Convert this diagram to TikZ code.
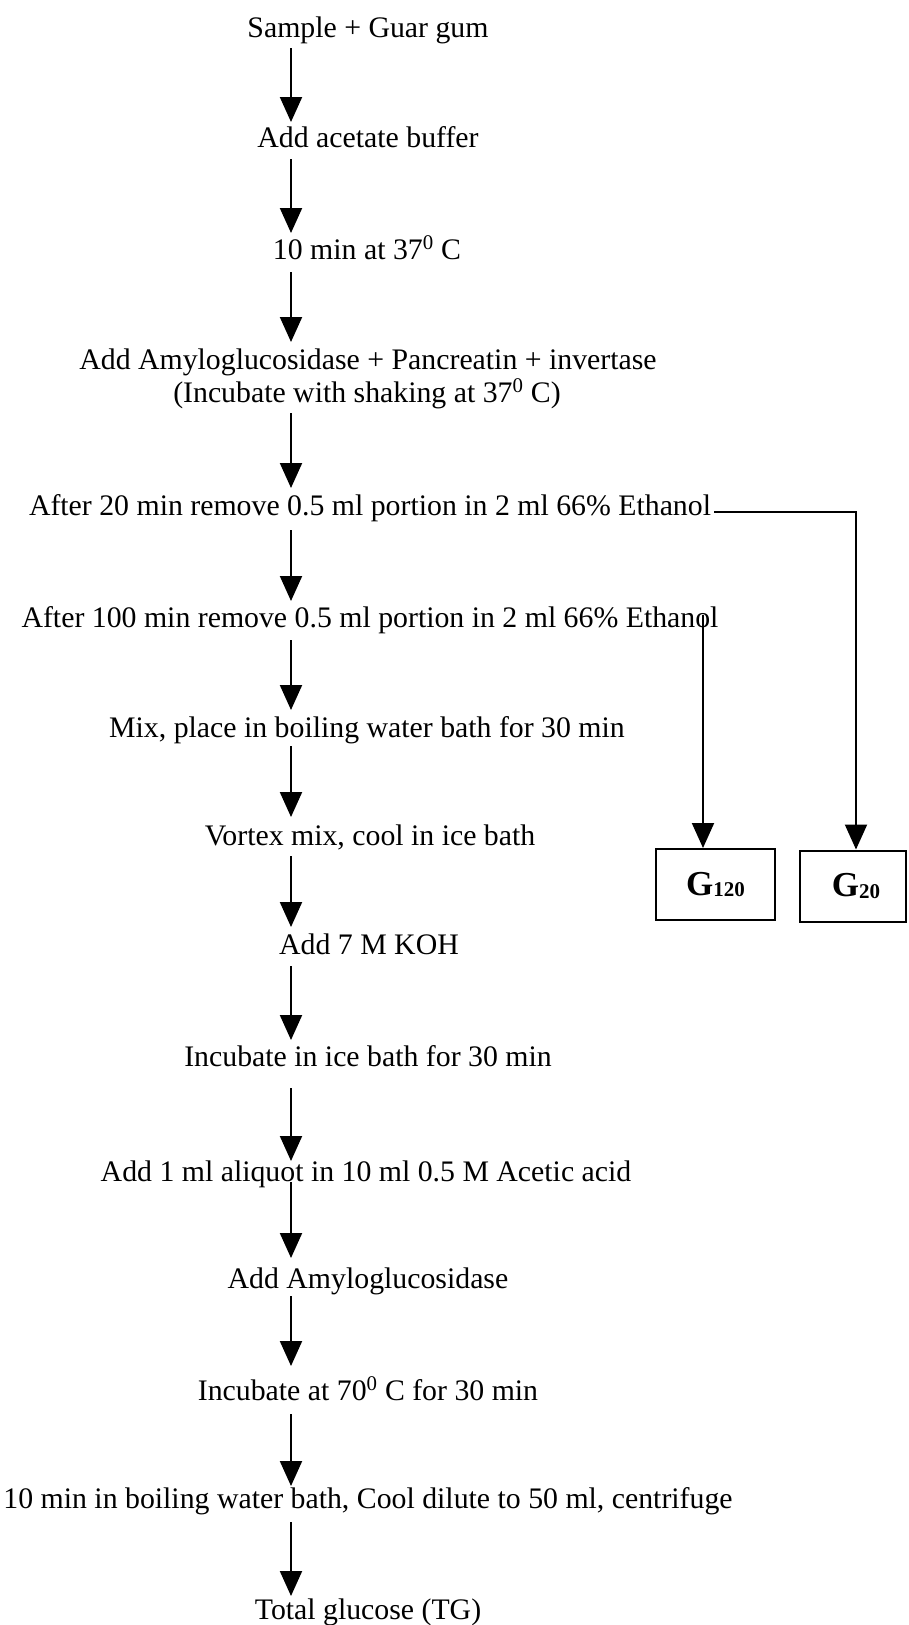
\documentclass[tikz,border=0pt]{standalone}
\usepackage{fontspec}
\setmainfont{Liberation Serif}
\usetikzlibrary{arrows.meta,calc}
\newcommand{\gsub}[1]{\raisebox{-1.5pt}{\fontsize{21pt}{21pt}\selectfont\bfseries #1}}
\begin{document}
\begin{tikzpicture}[x=1pt,y=-1pt,
  lbl/.style={anchor=base,inner sep=0pt,font=\fontsize{29.8pt}{34pt}\selectfont},
  arr/.style={line width=2pt,-{Triangle[width=22pt,length=25pt]}},
  gbox/.style={draw,line width=2pt,inner sep=0pt,minimum height=71pt,font=\fontsize{35pt}{38pt}\selectfont\bfseries}]
\useasboundingbox (0,0) rectangle (908,1625);
\coordinate (ax) at (291,0);
\node[lbl] (n1) at (368,37) {Sample + Guar gum};
\node[lbl] (n2) at (368,147) {Add acetate buffer};
\node[lbl] (n3) at (367,259) {10 min at 37\textsuperscript{0} C};
\node[lbl] (n4a) at (368,369) {Add Amyloglucosidase + Pancreatin + invertase};
\node[lbl] (n4b) at (367,402) {(Incubate with shaking at 37\textsuperscript{0} C)};
\node[lbl] (n5) at (370,515) {After 20 min remove 0.5 ml portion in 2 ml 66\% Ethanol};
\node[lbl] (n6) at (370,627) {After 100 min remove 0.5 ml portion in 2 ml 66\% Ethanol};
\node[lbl] (n7) at (367,737) {Mix, place in boiling water bath for 30 min};
\node[lbl] (n8) at (370,845) {Vortex mix, cool in ice bath};
\node[lbl] (n9) at (369,954) {Add 7 M KOH};
\node[lbl] (n10) at (368,1066) {Incubate in ice bath for 30 min};
\node[lbl] (n11) at (366,1181) {Add 1 ml aliquot in 10 ml 0.5 M Acetic acid};
\node[lbl] (n12) at (368,1288) {Add Amyloglucosidase};
\node[lbl] (n13) at (368,1400) {Incubate at 70\textsuperscript{0} C for 30 min};
\node[lbl] (n14) at (368,1508) {10 min in boiling water bath, Cool dilute to 50 ml, centrifuge};
\node[lbl] (n15) at (368,1619) {Total glucose (TG)};
\node[gbox,minimum width=119pt] (g120) at (715.5,884.5) {G\gsub{120}};
\node[gbox,minimum width=106pt] (g20) at (853,886) {\hspace*{6pt}G\gsub{20}};
% main chain
\draw[arr] ($(ax |- n1.base)+(0,11)$) -- ($(ax |- n2.base)+(0,-25)$);
\draw[arr] ($(ax |- n2.base)+(0,12)$) -- ($(ax |- n3.base)+(0,-26)$);
\draw[arr] ($(ax |- n3.base)+(0,13)$) -- ($(ax |- n4a.base)+(0,-27)$);
\draw[arr] ($(ax |- n4b.base)+(0,11)$) -- ($(ax |- n5.base)+(0,-27)$);
\draw[arr] ($(ax |- n5.base)+(0,15)$) -- ($(ax |- n6.base)+(0,-26)$);
\draw[arr] ($(ax |- n6.base)+(0,13)$) -- ($(ax |- n7.base)+(0,-27)$);
\draw[arr] ($(ax |- n7.base)+(0,9)$) -- ($(ax |- n8.base)+(0,-28)$);
\draw[arr] ($(ax |- n8.base)+(0,11)$) -- ($(ax |- n9.base)+(0,-27)$);
\draw[arr] ($(ax |- n9.base)+(0,12)$) -- ($(ax |- n10.base)+(0,-26)$);
\draw[arr] ($(ax |- n10.base)+(0,22)$) -- ($(ax |- n11.base)+(0,-20)$);
\draw[arr] ($(ax |- n11.base)+(0,1)$) -- ($(ax |- n12.base)+(0,-30)$);
\draw[arr] ($(ax |- n12.base)+(0,8)$) -- ($(ax |- n13.base)+(0,-34)$);
\draw[arr] ($(ax |- n13.base)+(0,14)$) -- ($(ax |- n14.base)+(0,-22)$);
\draw[arr] ($(ax |- n14.base)+(0,14)$) -- ($(ax |- n15.base)+(0,-23)$);
% branches
\coordinate (b20) at ($(g20.north)+(3,0)$);
\coordinate (b120) at ($(g120.north)+(-12.5,0)$);
\draw[arr] ($(n5.base east)+(3,-3)$) -| (b20);
\draw[arr] ($(b120 |- n6.base)+(0,-12)$) -- (b120);
\end{tikzpicture}
\end{document}
